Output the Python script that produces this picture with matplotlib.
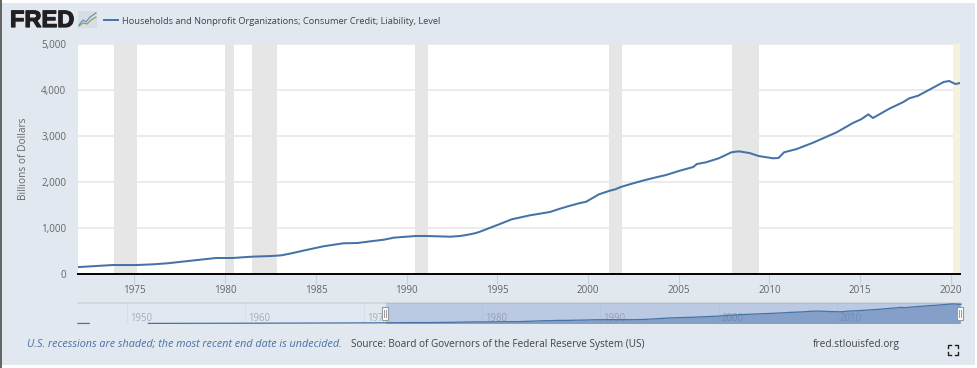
import numpy as np
from matplotlib import pyplot as plt
from matplotlib import patheffects
from matplotlib.patches import Rectangle

plt.rcParams["font.family"] = ["Open Sans", "DejaVu Sans"]

# billions of dollars
years = [1971.9, 1973.8, 1975.1, 1976.0, 1976.8, 1978.3, 1979.5, 1980.4, 1981.5, 1982.55, 1983.1, 1983.65, 1984.3,
         1985.4, 1986.5, 1987.3, 1988.0, 1988.75, 1989.3, 1990.5, 1991.1, 1992.4, 1992.95, 1993.3, 1993.75, 1994.0,
         1995.0, 1995.8, 1996.8, 1997.9, 1998.4, 1998.95, 1999.5, 1999.9, 2000.6, 2001.2, 2001.5, 2001.8, 2002.3,
         2003.0, 2003.75, 2004.3, 2005.0, 2005.8, 2006.0, 2006.5, 2007.2, 2007.9, 2008.3, 2008.9, 2009.4, 2010.2,
         2010.5, 2010.8, 2011.5, 2012.4, 2013.7, 2014.6, 2015.05, 2015.45, 2015.7, 2016.6, 2017.35, 2017.7, 2018.2,
         2018.85, 2019.6, 2019.9, 2020.25, 2020.5]
credit = [150, 195, 195, 210, 232, 297, 348, 348, 377, 391, 406, 449, 507,
          601, 667, 674, 710, 746, 790, 826, 826, 811, 826, 848, 884, 913,
          1065, 1189, 1276, 1348, 1413, 1478, 1537, 1572, 1732, 1811, 1841, 1891, 1950,
          2028, 2102, 2152, 2239, 2326, 2391, 2428, 2515, 2645, 2667, 2630, 2565, 2515,
          2522, 2645, 2717, 2854, 3080, 3283, 3363, 3471, 3391, 3593, 3733, 3819, 3877,
          4015, 4174, 4196, 4130, 4152]

# earlier part only shows in the navigator
early_years = [1945.85, 1946.8, 1951.8, 1960.0, 1968.0]
early_credit = [8, 10, 22, 60, 115]

recessions = [(1973.85, 1975.15), (1980.0, 1980.5), (1981.5, 1982.85), (1990.45, 1991.2),
              (2001.15, 2001.85), (2007.95, 2009.4)]
undecided = (2020.1, 2020.5)

y_ticks = [0, 1000, 2000, 3000, 4000, 5000]
x_ticks = [1975, 1980, 1985, 1990, 1995, 2000, 2005, 2010, 2015, 2020]
nav_ticks = [1950, 1960, 1970, 1980, 1990, 2000, 2010]

W, H = 977, 368
BG = "#e1e8f0"
LINE = "#4572a7"
TXT = "#666666"


def px_axes(fig, left, top, right, bottom):
    return fig.add_axes([left / W, 1 - bottom / H, (right - left) / W, (bottom - top) / H])


fig = plt.figure(figsize=(W / 100, H / 100), dpi=100, facecolor="white")

# page layer in pixel coordinates
bg = fig.add_axes([0, 0, 1, 1], zorder=0)
bg.set_xlim(0, W)
bg.set_ylim(H, 0)
bg.axis("off")
bg.add_patch(Rectangle((2, 3), 973, 362, fc=BG, ec="none"))
bg.add_patch(Rectangle((0, 0), 2, H, fc="#666666", ec="none"))

# logo
logo = bg.text(10, 20.5, "FRED", family="Liberation Sans", weight="bold", fontsize=17, color="#231f20", va="center")
logo.set_path_effects([patheffects.withStroke(linewidth=0.9, foreground="#231f20")])
bg.add_patch(Rectangle((78, 11), 19, 17, fc="#d8dde2", ec="none"))
bg.plot([79, 83, 86, 90, 96], [25, 20, 22, 17, 13], color="#5b8dbe", lw=0.8)
bg.plot([79, 83, 87, 91, 96], [26, 23, 24, 20, 17], color="#7da05a", lw=0.8)

# legend
bg.plot([104, 118], [20, 20], color=LINE, lw=1.4)
bg.text(122, 21, "Households and Nonprofit Organizations; Consumer Credit; Liability, Level",
        fontsize=6.7, color="#444444", va="center")

bg.text(23.5, 159, "Billions of Dollars", rotation=90, fontsize=7.25, color=TXT, ha="center", va="center")

# footer
bg.text(27, 344, "U.S. recessions are shaded; the most recent end date is undecided.",
        fontsize=7.72, style="italic", color="#4a6fa5", va="center")
bg.text(351, 344, "Source: Board of Governors of the Federal Reserve System (US)", fontsize=7.2, color="#444444",
        va="center")
bg.text(813, 344, "fred.stlouisfed.org", fontsize=7.3, color="#444444", va="center")

# fullscreen icon
for cx, sx in ((947.5, 1), (957.5, -1)):
    for cy, sy in ((345, 1), (355, -1)):
        bg.plot([cx + 3 * sx, cx, cx], [cy, cy, cy + 3 * sy], color="#222222", lw=1)

# main chart
ax = px_axes(fig, 78, 44, 960, 274)
ax.set_zorder(1)
ax.set_xlim(1971.89, 2020.5)
ax.set_ylim(0, 5000)
ax.set_facecolor("white")
ax.set_axisbelow(True)
for start, end in recessions:
    ax.axvspan(start, end, color="#e6e6e6", lw=0, zorder=1)
ax.axvspan(*undecided, color="#f6f3dc", lw=0, zorder=1)
ax.yaxis.grid(True, color="#e6e6e6", lw=1.1, zorder=0.5)
ax.plot(years, credit, color=LINE, lw=1.45, zorder=3, solid_joinstyle="round")
for side in ("top", "left", "right"):
    ax.spines[side].set_visible(False)
ax.spines["bottom"].set_color("black")
ax.spines["bottom"].set_linewidth(1.4)
ax.set_yticks(y_ticks, [f"{v:,}" for v in y_ticks])
ax.set_xticks(x_ticks)
ax.tick_params(axis="y", length=0, pad=8.5, labelsize=7.1, labelcolor=TXT)
ax.tick_params(axis="x", length=7, width=0.8, color="#c8d0da", pad=0.8, labelsize=7.1, labelcolor=TXT)

# navigator
nav = px_axes(fig, 78, 303, 960, 323.5)
nav.set_zorder(1)
nav.set_xlim(1945.85, 2020.4)
nav.set_ylim(0, 4400)
nav.patch.set_alpha(0)
for side in nav.spines:
    nav.spines[side].set_visible(False)
nav.plot([1945.85, 2020.4], [4400, 4400], color="#d0d4d8", lw=1.2, clip_on=False)
nav.set_xticks([])
nav.set_yticks([])
for t in nav_ticks:
    nav.axvline(t, color="#d8dfe8", lw=0.8, zorder=0.5)
    nav.text(t + 0.25, 1050, str(t), fontsize=6.9, color="#a8adb3", va="center", zorder=1)
nav.fill_between(years, credit, 0, color=LINE, alpha=0.5, lw=0, zorder=2)
nav.axvspan(years[0], 2020.4, color="#6685c2", alpha=0.3, lw=0, zorder=3)
nav_x = early_years[:2] + [np.nan] + early_years[2:] + years
nav_y = early_credit[:2] + [np.nan] + early_credit[2:] + credit
nav.plot(nav_x, nav_y, color=LINE, lw=0.9, zorder=4, clip_on=False)

# navigator handles on top
top = fig.add_axes([0, 0, 1, 1], zorder=5)
top.set_xlim(0, W)
top.set_ylim(H, 0)
top.axis("off")
for hx in (385, 959.5):
    top.add_patch(Rectangle((hx - 3, 307), 6, 13, fc="white", ec="#999999", lw=0.8))
    top.plot([hx - 1, hx - 1], [310, 317], color="#999999", lw=0.7)
    top.plot([hx + 1, hx + 1], [310, 317], color="#999999", lw=0.7)

fig.savefig("out.png", dpi=100, facecolor="white")
